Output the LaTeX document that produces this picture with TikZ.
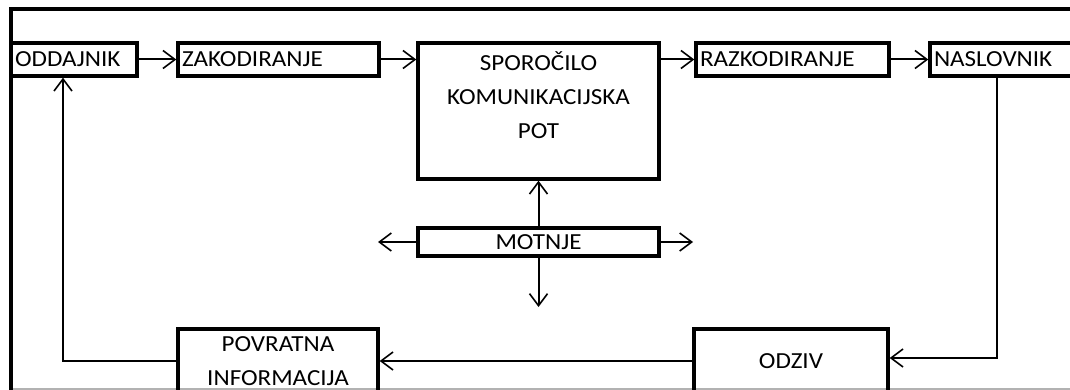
\documentclass[tikz,border=0pt]{standalone}
\usepackage{fontspec}
\setmainfont{Carlito}[FakeStretch=1.09]
\usetikzlibrary{arrows.meta,calc}
\begin{document}
\begin{tikzpicture}[x=1pt,y=-1pt,
  txt/.style={font=\fontsize{23}{34}\selectfont},
  box/.style={draw, line width=3.5pt, inner sep=0pt, outer sep=0pt, anchor=north west, txt},
  lbox/.style={box, align=left, inner xsep=4pt},
  conn/.style={line width=2pt, shorten >=1.7pt, -{Straight Barb[length=12pt,width=18pt,line width=1.6pt]}}
]
\useasboundingbox (0,0) rectangle (1070,390);
\begin{scope}
\clip (0,0) rectangle (1070,390);
\draw[gray!60, line width=1.5pt] (10,389) -- (1070,389);
\draw[line width=3.8pt] (11,400) -- (11,9) -- (1080,9);
\node[lbox, text width=118pt, minimum height=33pt] (odd) at (11,43) {ODDAJNIK};
\node[lbox, text width=193pt, minimum height=33pt] (zak) at (178,43) {ZAKODIRANJE};
\node[box, minimum width=241pt, minimum height=136pt] (spo) at (418,43) {};
\node[txt, align=center] (spot) at (538.5,95.5) {SPOROČILO\\KOMUNIKACIJSKA\\POT};
\node[lbox, text width=185pt, minimum height=33pt] (raz) at (696,43) {RAZKODIRANJE};
\node[lbox, text width=152pt, minimum height=33pt] (nas) at (930,43) {NASLOVNIK};
\node[box, minimum width=241pt, minimum height=28pt] (mot) at (418,228) {MOTNJE};
\node[box, minimum width=200pt, minimum height=64pt, align=center] (pov) at (178,329) {POVRATNA\\INFORMACIJA};
\node[box, minimum width=194pt, minimum height=64pt] (odz) at (694,329) {ODZIV};
\coordinate (ml) at ($(mot.west)+(-40,0)$);
\coordinate (mr) at ($(mot.east)+(34,0)$);
\coordinate (md) at ($(mot.south)+(0,51)$);
\draw[conn] (odd.east) -- (zak.west);
\draw[conn] (zak.east) -- (zak.east -| spo.west);
\draw[conn] (raz.west -| spo.east) -- (raz.west);
\draw[conn] (raz.east) -- (nas.west);
\draw[conn] ([xshift=67pt]nas.south west) |- ([yshift=3pt]odz.east);
\draw[conn] (odz.west) -- (pov.east);
\draw[conn] (pov.west) -| ([xshift=-11pt]odd.south);
\draw[conn] (mot.north) -- (spo.south);
\draw[conn, shorten >=0pt] (mot.west) -- (ml);
\draw[conn, shorten >=0pt] (mot.east) -- (mr);
\draw[conn, shorten >=0pt] (mot.south) -- (md);
\end{scope}
\end{tikzpicture}
\end{document}
